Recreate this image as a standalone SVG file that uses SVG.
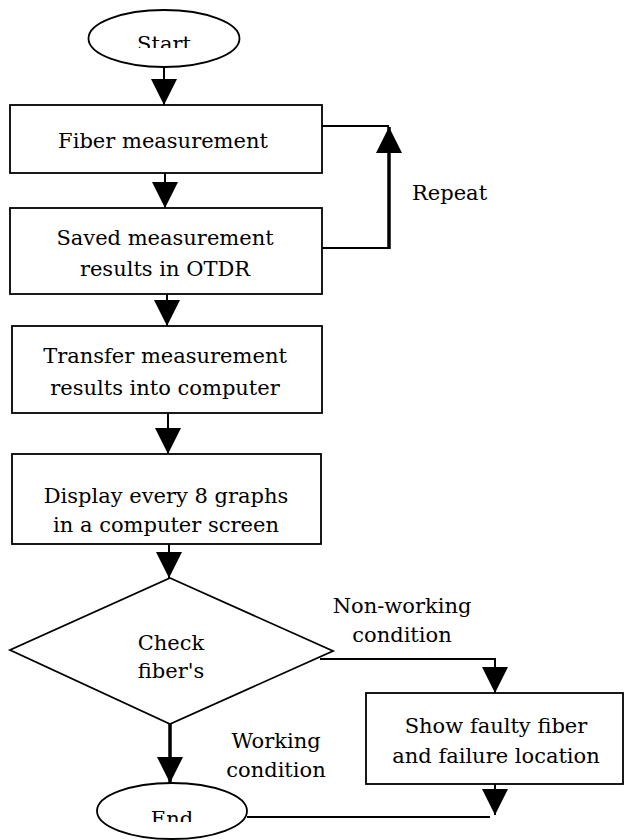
<svg xmlns="http://www.w3.org/2000/svg" width="625" height="840" viewBox="0 0 625 840">
<style>
.shape{fill:#fff;stroke:#000;stroke-width:1.8}
.t{font-size:21px;fill:#000;text-anchor:middle}
.tl{font-size:21px;fill:#000}
.c{fill:none;stroke:#000;stroke-width:2}
.ck{fill:none;stroke:#000;stroke-width:3.5}
</style>
<defs>
<marker id="ah" markerUnits="userSpaceOnUse" markerWidth="26" markerHeight="26" refX="26" refY="13" orient="auto">
<path d="M0,0 L26,13 L0,26 z" fill="#000"/>
</marker>
<clipPath id="clipStart"><rect x="0" y="0" width="625" height="48"/></clipPath>
<clipPath id="clipEnd"><rect x="0" y="790" width="625" height="32"/></clipPath>
</defs>
<rect width="625" height="840" fill="#fff"/>
<g id="connectors">
<line class="c" x1="164" y1="67" x2="164" y2="105" marker-end="url(#ah)"/>
<line class="c" x1="165" y1="173" x2="165" y2="208" marker-end="url(#ah)"/>
<polyline class="c" points="322,248 389,248"/>
<line class="ck" x1="389" y1="249" x2="389" y2="127" marker-end="url(#ah)"/>
<polyline class="c" points="322,126 389,126"/>
<line class="c" x1="167" y1="294" x2="167" y2="326" marker-end="url(#ah)"/>
<line class="c" x1="168" y1="413" x2="168" y2="454" marker-end="url(#ah)"/>
<line class="c" x1="169" y1="544" x2="169" y2="578" marker-end="url(#ah)"/>
<line class="ck" x1="170" y1="724" x2="170" y2="783" marker-end="url(#ah)"/>
<polyline class="c" points="320,659 495,659 495,693" marker-end="url(#ah)"/>
<line class="c" x1="495" y1="784" x2="495" y2="815" marker-end="url(#ah)"/>
<polyline class="c" points="247,817 490,817"/>
</g>
<g font-family="'DejaVu Serif', serif">
<g id="start">
<ellipse class="shape" cx="164" cy="38.5" rx="75.5" ry="28.5"/>
<text class="t" x="164" y="50.5" clip-path="url(#clipStart)">Start</text>
</g>
<g id="fiber-measurement">
<rect class="shape" x="10" y="105" width="312" height="68"/>
<text class="t" x="163" y="148">Fiber measurement</text>
</g>
<g id="saved-results">
<rect class="shape" x="10" y="208" width="312" height="86"/>
<text class="t" x="165" y="245">Saved measurement</text>
<text class="t" x="165" y="276">results in OTDR</text>
</g>
<g id="repeat-label">
<text class="tl" x="412" y="200">Repeat</text>
</g>
<g id="transfer">
<rect class="shape" x="12" y="326" width="310" height="87"/>
<text class="t" x="165" y="363">Transfer measurement</text>
<text class="t" x="165" y="395">results into computer</text>
</g>
<g id="display">
<rect class="shape" x="12" y="454" width="309" height="90"/>
<text class="t" x="166" y="503">Display every 8 graphs</text>
<text class="t" x="166" y="532">in a computer screen</text>
</g>
<g id="check">
<polygon class="shape" points="170,578 333,651 170,724 10,650"/>
<text class="t" x="171" y="650">Check</text>
<text class="t" x="171" y="678">fiber's</text>
</g>
<g id="non-working-label">
<text class="t" x="402" y="613">Non-working</text>
<text class="t" x="402" y="642">condition</text>
</g>
<g id="working-label">
<text class="t" x="276" y="748">Working</text>
<text class="t" x="276" y="777">condition</text>
</g>
<g id="show-faulty">
<rect class="shape" x="366" y="693" width="257" height="91"/>
<text class="t" x="496" y="733">Show faulty fiber</text>
<text class="t" x="496" y="763">and failure location</text>
</g>
<g id="end">
<ellipse class="shape" cx="172" cy="811" rx="75" ry="28"/>
<text class="t" x="172" y="825.5" clip-path="url(#clipEnd)">End</text>
</g>
</g>
</svg>
